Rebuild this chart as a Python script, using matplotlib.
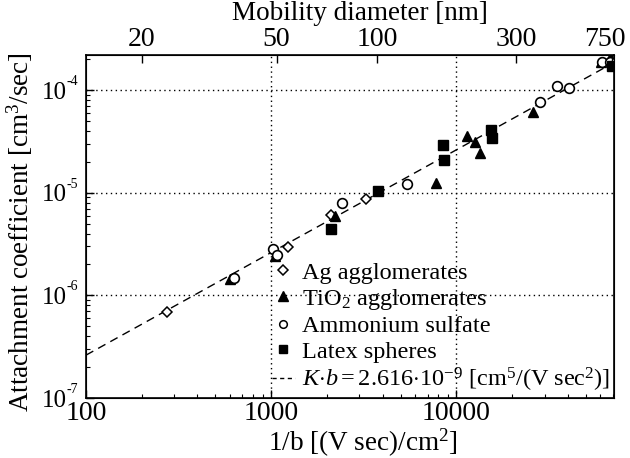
import matplotlib
matplotlib.use("Agg")
import matplotlib.pyplot as plt
import matplotlib.transforms as mtrans
from matplotlib.lines import Line2D
import numpy as np

plt.rcParams['font.family'] = ['Liberation Serif', 'DejaVu Serif']
plt.rcParams['mathtext.fontset'] = 'custom'
plt.rcParams['mathtext.rm'] = 'Liberation Serif'
plt.rcParams['mathtext.it'] = 'Liberation Serif:italic'
plt.rcParams['mathtext.bf'] = 'Liberation Serif:bold'

# ---- data (1/b in (V sec)/cm^2, K in cm^3/sec) ----
ag_x = [274, 1236, 2110, 3266]
ag_y = [6.87e-7, 2.95e-6, 6.05e-6, 8.67e-6]

tio2_x = [600, 1053, 2218, 7800, 11460, 12680, 13490, 26060, 60500, 68000]
tio2_y = [1.44e-6, 2.42e-6, 5.92e-6, 1.24e-5, 3.56e-5, 3.11e-5, 2.43e-5, 6.1e-5, 1.87e-4, 2.05e-4]

amm_x = [631, 1026, 1077, 2421, 5430, 28450, 34760, 40800, 61500, 67900]
amm_y = [1.47e-6, 2.83e-6, 2.47e-6, 7.9e-6, 1.21e-5, 7.62e-5, 1.09e-4, 1.04e-4, 1.87e-4, 1.87e-4]

latex_x = [2110, 3786, 8610, 8510, 15450, 15660, 68900]
latex_y = [4.43e-6, 1.04e-5, 2.07e-5, 2.9e-5, 4.07e-5, 3.4e-5, 1.71e-4]

Kb = 2.616e-9
fit_x = [100, 71000]

bottom_tick_values = [100, 1000, 10000]
bottom_tick_labels = ['100', '1000', '10000']
left_tick_values = [1e-7, 1e-6, 1e-5, 1e-4]
left_tick_exponents = ['-7', '-6', '-5', '-4']
top_tick_values = [200, 1070, 3720, 21000, 69000]
top_tick_labels = ['20', '50', '100', '300', '750']

xlim = (100, 71000)
ylim = (1e-7, 2.2e-4)

fig = plt.figure(figsize=(6.3, 4.58), dpi=100)
ax = fig.add_axes([0.1365, 0.131, 0.838, 0.749])

ax.set_xscale('log')
ax.set_yscale('log')

ax.plot(fit_x, [Kb * v for v in fit_x], color='black', lw=1.0,
        linestyle=(0, (6, 4)), zorder=2)

ax.plot(ag_x, ag_y, linestyle='none', marker='D', ms=5.5, mfc='white',
        mec='black', mew=1.1, zorder=3)
ax.plot(tio2_x, tio2_y, linestyle='none', marker='^', ms=7.5, mfc='black',
        mec='black', zorder=3)
ax.plot(amm_x, amm_y, linestyle='none', marker='o', ms=7, mfc='white',
        mec='black', mew=1.2, zorder=3)
ax.plot(latex_x, latex_y, linestyle='none', marker='s', ms=6.5, mfc='black',
        mec='black', zorder=3)

ax.set_xlim(*xlim)
ax.set_ylim(*ylim)

for v in [1000, 10000]:
    ax.axvline(v, color='black', lw=1.0, linestyle=(0, (1, 2.5)), zorder=1)
for v in [1e-6, 1e-5, 1e-4]:
    ax.axhline(v, color='black', lw=1.0, linestyle=(0, (1, 2.5)), zorder=1)

ax.set_xticks(bottom_tick_values)
ax.set_xticklabels(bottom_tick_labels)
ax.set_yticks(left_tick_values)
ax.set_yticklabels(['10'] * len(left_tick_values))
ax.tick_params(axis='both', which='major', direction='in', length=6,
               width=1, top=False, right=False)
ax.tick_params(axis='both', which='minor', direction='in', length=3,
               width=0.8, top=False, right=False)
ax.tick_params(axis='x', which='major', pad=2, labelsize=20)
ax.tick_params(axis='y', which='major', pad=13.5, labelsize=18)

for v, e in zip(left_tick_values, left_tick_exponents):
    ax.annotate(e, xy=(0, v), xycoords=('axes fraction', 'data'),
                xytext=(-19, 2), textcoords='offset pixels',
                ha='left', va='bottom', fontsize=10)

for s in ax.spines.values():
    s.set_linewidth(1.2)

ax.set_xlabel('1/b [(V sec)/cm$^2$]', fontsize=19.5, labelpad=-1)
ax.xaxis.set_label_coords(0.525, -0.085, transform=ax.transAxes)
ax.xaxis.label.set_va('top')
ax.set_ylabel('Attachment coefficient [cm$^3$/sec]', fontsize=19.5)
ax.yaxis.set_label_coords(-0.097, 0.484)

ax2 = ax.twiny()
ax2.set_xscale('log')
ax2.set_xlim(*xlim)
ax2.set_xticks(top_tick_values)
ax2.set_xticklabels(top_tick_labels)
ax2.xaxis.set_minor_locator(matplotlib.ticker.NullLocator())
ax2.tick_params(axis='x', which='major', direction='in', length=6, width=1,
                labelsize=20, pad=2)
ax2.set_xlabel('Mobility diameter [nm]', fontsize=19.5)
ax2.xaxis.set_label_coords(0.518, 1.085, transform=ax2.transAxes)
ax2.xaxis.label.set_va('bottom')

lab = ax2.get_xticklabels()[-1]
lab.set_transform(lab.get_transform() + mtrans.ScaledTranslation(-7 / 100, 0, fig.dpi_scale_trans))

handles = [
    Line2D([], [], linestyle='none', marker='D', ms=5, mfc='white', mec='black', mew=1.1),
    Line2D([], [], linestyle='none', marker='^', ms=6.5, mfc='black', mec='black'),
    Line2D([], [], linestyle='none', marker='o', ms=5.5, mfc='white', mec='black', mew=1.1),
    Line2D([], [], linestyle='none', marker='s', ms=5.5, mfc='black', mec='black'),
    Line2D([], [], color='black', lw=1.0, linestyle=(0, (3, 2.5))),
]
labels = [
    'Ag agglomerates',
    'TiO$_2$ agglomerates',
    'Ammonium sulfate',
    'Latex spheres',
    r'$K{\cdot}b = 2.616{\cdot}10^{-9}$ [cm$^5$/(V sec$^2$)]',
]
leg = ax.legend(handles, labels, loc='lower right', frameon=False,
                fontsize=17.5, handlelength=0.95, handletextpad=0.3,
                labelspacing=0.14, borderaxespad=0.05, borderpad=0.1)

fig.savefig('out.png', dpi=100)
